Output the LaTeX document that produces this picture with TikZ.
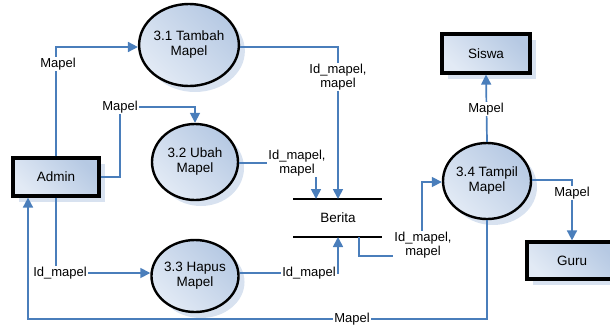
\documentclass[tikz,border=0pt]{standalone}
\usepackage{fontspec}
\setmainfont{Liberation Sans}
\usetikzlibrary{arrows.meta,shadows,shapes.geometric}
\definecolor{flow}{HTML}{4A7EBB}
\definecolor{fillA}{HTML}{E2EAF5}
\definecolor{fillB}{HTML}{B6C9E3}
\definecolor{shadowc}{HTML}{D8E2F0}
\begin{document}
\begin{tikzpicture}[x=1pt,y=-1pt,
  font=\fontsize{13.5}{15}\selectfont,
  proc/.style={ellipse, draw=black, line width=2.4pt, inner sep=0pt, align=center,
    left color=fillA, right color=fillB, shading angle=135,
    drop shadow={shadow xshift=6pt, shadow yshift=-6pt, fill=shadowc, opacity=1}},
  ext/.style={rectangle, draw=black, line width=3.2pt, inner sep=0pt,
    left color=fillA, right color=fillB, shading angle=135,
    drop shadow={shadow xshift=6pt, shadow yshift=-6pt, fill=shadowc, opacity=1}},
  flowline/.style={draw=flow, line width=1.7pt, -{Triangle[length=10pt,width=10pt]}},
  lbl/.style={fill=white, inner sep=1pt, align=center, font=\fontsize{13}{13.5}\selectfont},
  storeline/.style={draw=black, line width=2.6pt}
]
\useasboundingbox (0,0) rectangle (610,325);

% nodes
\node[ext, minimum width=86pt, minimum height=38pt] (admin) at (56,177) {Admin};
\node[ext, minimum width=88pt, minimum height=39pt] (siswa) at (486,53.5) {Siswa};
\node[ext, minimum width=90pt, minimum height=37pt] (guru) at (572,260.5) {Guru};

\node[proc, minimum width=86pt, minimum height=82pt] (p31) at (189,45) {3.1 Tambah\\Mapel};
\node[proc, minimum width=86pt, minimum height=76pt] (p32) at (195,162) {3.2 Ubah\\Mapel};
\node[proc, minimum width=86pt, minimum height=72pt] (p33) at (195,276) {3.3 Hapus\\Mapel};
\node[proc, minimum width=88pt, minimum height=76pt] (p34) at (487,181) {3.4 Tampil\\Mapel};

% data store
\coordinate (bt1) at (293,199);
\coordinate (bt2) at (382,199);
\coordinate (bb1) at (293,237);
\coordinate (bb2) at (382,237);
\draw[storeline] (bt1) -- (bt2);
\draw[storeline] (bb1) -- (bb2);
\node (berita) at (338,218) {Berita};

% coordinates for connector ends
\coordinate (a31) at (56,47);
\coordinate (adm32) at (120,177);
\coordinate (t32) at (120,107);
\coordinate (s1) at (338,199);
\coordinate (s2) at (316,199);
\coordinate (s3) at (338,237);
\coordinate (s4) at (359,237);
\coordinate (c34) at (422,182);
\coordinate (g1) at (572,180);
\coordinate (bl) at (28,319);

% connectors
\draw[flowline] (admin.north) -- (a31) -- (p31.west |- a31);
\node[lbl] at (58,64) {Mapel};

\draw[flowline] (admin.east |- adm32) -- (adm32) -- (t32) -- (195,107) -- (p32.north);
\node[lbl] at (120,107) {Mapel};

\draw[flowline] (p31.east |- 0,47) -- (338,47) -- (s1);
\node[lbl] at (338,77) {Id\_mapel,\\mapel};

\draw[flowline] (p32.east |- 0,163) -- (316,163) -- (s2);
\node[lbl] at (297,163) {Id\_mapel,\\mapel};

\draw[flowline] (p33.east |- 0,273) -- (338,273) -- (s3);
\node[lbl] at (309,273) {Id\_mapel};

\draw[flowline] (admin.south) -- (56,273) -- (p33.west |- 0,273);
\node[lbl] at (60,273) {Id\_mapel};

\draw[flowline] (s4) -- (359,256) -- (422,256) -- (c34) -- (p34.west |- c34);
\node[lbl] at (423,245) {Id\_mapel,\\mapel};

\draw[flowline] (p34.north) -- (siswa.south);
\node[lbl] at (486,109) {Mapel};

\draw[flowline] (p34.east |- g1) -- (g1) -- (guru.north);
\node[lbl] at (572,193) {Mapel};

\draw[flowline] (p34.south) -- (487,319) -- (bl) -- (bl |- admin.south);
\node[lbl] at (352,319) {Mapel};
\end{tikzpicture}
\end{document}
